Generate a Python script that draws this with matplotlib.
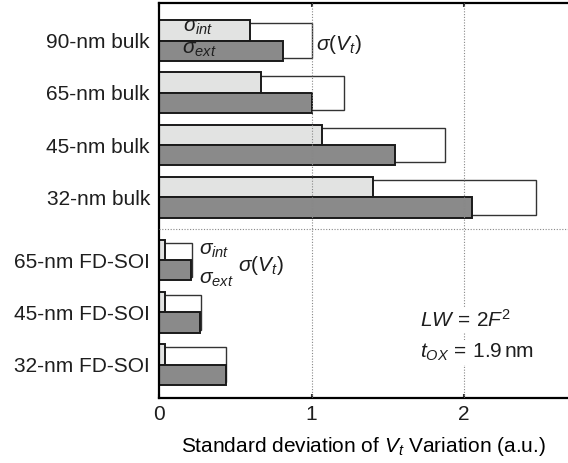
import numpy as np
import matplotlib.pyplot as plt

plt.rcParams["font.family"] = ["Liberation Sans", "DejaVu Sans"]
plt.rcParams["mathtext.fontset"] = "custom"
plt.rcParams["mathtext.rm"] = "Liberation Sans"
plt.rcParams["mathtext.it"] = "Liberation Sans:italic"
plt.rcParams["text.color"] = "#1e1e1e"

# Vt variation per technology node (a.u.)
nodes = ["90-nm bulk", "65-nm bulk", "45-nm bulk", "32-nm bulk",
         "65-nm FD-SOI", "45-nm FD-SOI", "32-nm FD-SOI"]
sigma_int = [0.595, 0.667, 1.067, 1.40, 0.04, 0.04, 0.04]
sigma_ext = [0.81, 1.00, 1.55, 2.05, 0.21, 0.27, 0.44]
sigma_total = [1.00, 1.21, 1.875, 2.475, 0.214, 0.273, 0.442]

n_bulk = 4
gap = 0.2
pos = np.array([i if i < n_bulk else i + gap for i in range(len(nodes))])

fig = plt.figure(figsize=(5.68, 4.63), dpi=100)
ax = fig.add_axes([159 / 568, 65 / 463, 409 / 568, 395 / 463])

bar_h = 0.39
ax.barh(pos, sigma_total, height=0.66, color="white", edgecolor="#333333",
        linewidth=1.0, zorder=1)
ax.barh(pos - bar_h / 2, sigma_int, height=bar_h, color="#e2e3e2",
        edgecolor="#1a1a1a", linewidth=1.4, zorder=2)
ax.barh(pos + bar_h / 2, sigma_ext, height=bar_h, color="#8a8a8a",
        edgecolor="#1a1a1a", linewidth=1.4, zorder=2)

ax.set_xlim(0, 409 / 152.5)
ax.set_ylim(6.84, -0.718)

# dotted guides
for xv in [1, 2]:
    ax.axvline(xv, color="#888888", linestyle=(0, (1, 1.5)), linewidth=0.8, zorder=3)
ax.axhline(n_bulk - 0.5 + gap / 2, color="#888888", linestyle=(0, (1, 1.5)),
           linewidth=0.8, zorder=3)

ax.set_yticks(pos)
ax.set_yticklabels(nodes, fontsize=15)
ax.tick_params(axis="y", length=0, pad=6.5, labelcolor="#1e1e1e")
ax.set_xticks([0, 1, 2])
ax.tick_params(axis="x", direction="in", length=3, width=1.5, top=True,
               labelsize=15, pad=5, color="#333333", labelcolor="#1e1e1e")

for side in ["left", "top", "bottom"]:
    ax.spines[side].set_linewidth(1.6)
ax.spines["right"].set_visible(False)

ax.set_xlabel("Standard deviation of $V_t$ Variation (a.u.)", fontsize=15, labelpad=8)

# labels inside the bulk group
ax.text(0.16, -0.24, r"$\sigma_{int}$", fontsize=15, ha="left", va="center", zorder=4)
ax.text(0.15, 0.18, r"$\sigma_{ext}$", fontsize=15, ha="left", va="center", zorder=4)
ax.text(1.03, 0.07, r"$\sigma(V_t)$", fontsize=15, ha="left", va="center", zorder=4)

# labels beside the FD-SOI group
ax.text(0.26, pos[4] - 0.19, r"$\sigma_{int}$", fontsize=15, ha="left", va="center")
ax.text(0.26, pos[4] + 0.38, r"$\sigma_{ext}$", fontsize=15, ha="left", va="center")
ax.text(0.52, pos[4] + 0.11, r"$\sigma(V_t)$", fontsize=15, ha="left", va="center")

ax.text(1.71, 5.34, r"$LW\,=\,2F^2$", fontsize=15, ha="left", va="center", zorder=5,
        bbox=dict(facecolor="white", edgecolor="none", pad=1))
ax.text(1.71, 5.97, r"$t_{OX}\,=\,1.9\,\mathrm{nm}$", fontsize=15, ha="left",
        va="center", zorder=5, bbox=dict(facecolor="white", edgecolor="none", pad=1))

fig.savefig("out.png", dpi=100)
